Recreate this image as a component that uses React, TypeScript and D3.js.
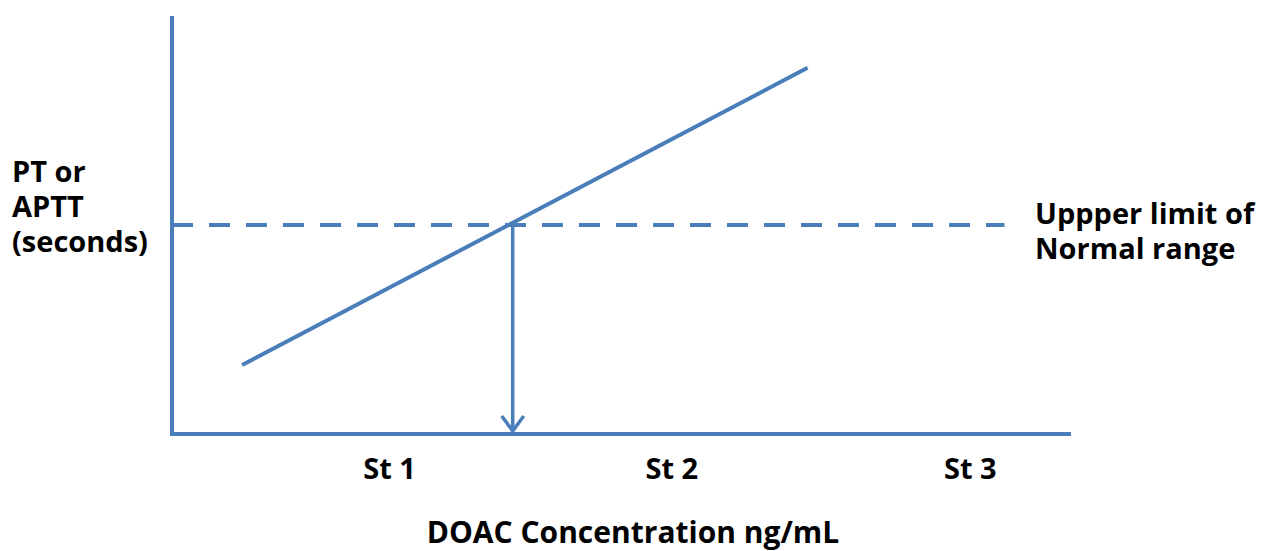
import React from "react";
import * as d3 from "d3";

// Data (abstract units: x 0..10 concentration, y 0..10 clotting time)
const lineX = [0.78, 7.07];
const lineY = [1.65, 8.76];
const normalUpperLimit = 5.0;
const dashExtent = [0, 9.26];
const arrowX = 3.79;
const tickLabels = ["St 1", "St 2", "St 3"];
const tickValues = [2.42, 5.56, 8.88];
const yLabelLines = ["PT or", "APTT", "(seconds)"];
const refLabelLines = ["Uppper limit of", "Normal range"];
const xTitle = "DOAC Concentration ng/mL";

const W = 1265;
const H = 551;
const COLOR = "#4A7EBB";
const FONT = "'Open Sans', sans-serif";
const FS = 29;

export default function App() {
  const x = d3.scaleLinear().domain([0, 10]).range([172, 1071]);
  const y = d3.scaleLinear().domain([0, 10]).range([434, 16]);

  const pts: [number, number][] = lineX.map((v, i) => [v, lineY[i]]);
  const linePath = d3
    .line<[number, number]>()
    .x((d) => x(d[0]))
    .y((d) => y(d[1]))(pts) as string;

  const ax = x(arrowX);
  const ay0 = y(normalUpperLimit);
  const ay1 = y(0) - 3;

  return (
    <svg
      width={W}
      height={H}
      style={{ position: "absolute", left: 0, top: 0, background: "#fff" }}
      fontFamily={FONT}
    >
      {/* axes */}
      <line x1={x(0)} x2={x(0)} y1={y(10)} y2={y(0) + 2} stroke={COLOR} strokeWidth={4} />
      <line x1={x(0) - 2} x2={x(10)} y1={y(0)} y2={y(0)} stroke={COLOR} strokeWidth={4} />

      {/* upper limit of normal (dashed) */}
      <line
        x1={x(dashExtent[0])}
        x2={x(dashExtent[1])}
        y1={y(normalUpperLimit)}
        y2={y(normalUpperLimit)}
        stroke={COLOR}
        strokeWidth={4}
        strokeDasharray="21 16"
      />

      {/* response line */}
      <path d={linePath} stroke={COLOR} strokeWidth={4} fill="none" />

      {/* arrow */}
      <line x1={ax} x2={ax} y1={ay0} y2={ay1} stroke={COLOR} strokeWidth={3.5} />
      <path
        d={`M${ax - 11},${ay1 - 15} L${ax},${ay1} L${ax + 11},${ay1 - 15}`}
        stroke={COLOR}
        strokeWidth={3.5}
        fill="none"
        strokeLinejoin="miter"
      />

      {/* tick labels */}
      {tickLabels.map((t, i) => (
        <text
          key={t}
          x={x(tickValues[i])}
          y={479}
          textAnchor="middle"
          fontSize={FS}
          fontWeight="bold"
          fill="#000"
        >
          {t}
        </text>
      ))}

      {/* y label */}
      {yLabelLines.map((t, i) => (
        <text key={t} x={12} y={182 + i * 35} fontSize={FS} fontWeight="bold" fill="#000">
          {t}
        </text>
      ))}

      {/* reference label */}
      {refLabelLines.map((t, i) => (
        <text key={t} x={1035} y={224 + i * 35} fontSize={FS} fontWeight="bold" fill="#000">
          {t}
        </text>
      ))}

      {/* x title */}
      <text x={633} y={543} textAnchor="middle" fontSize={30} fontWeight="bold" fill="#000">
        {xTitle}
      </text>
    </svg>
  );
}
